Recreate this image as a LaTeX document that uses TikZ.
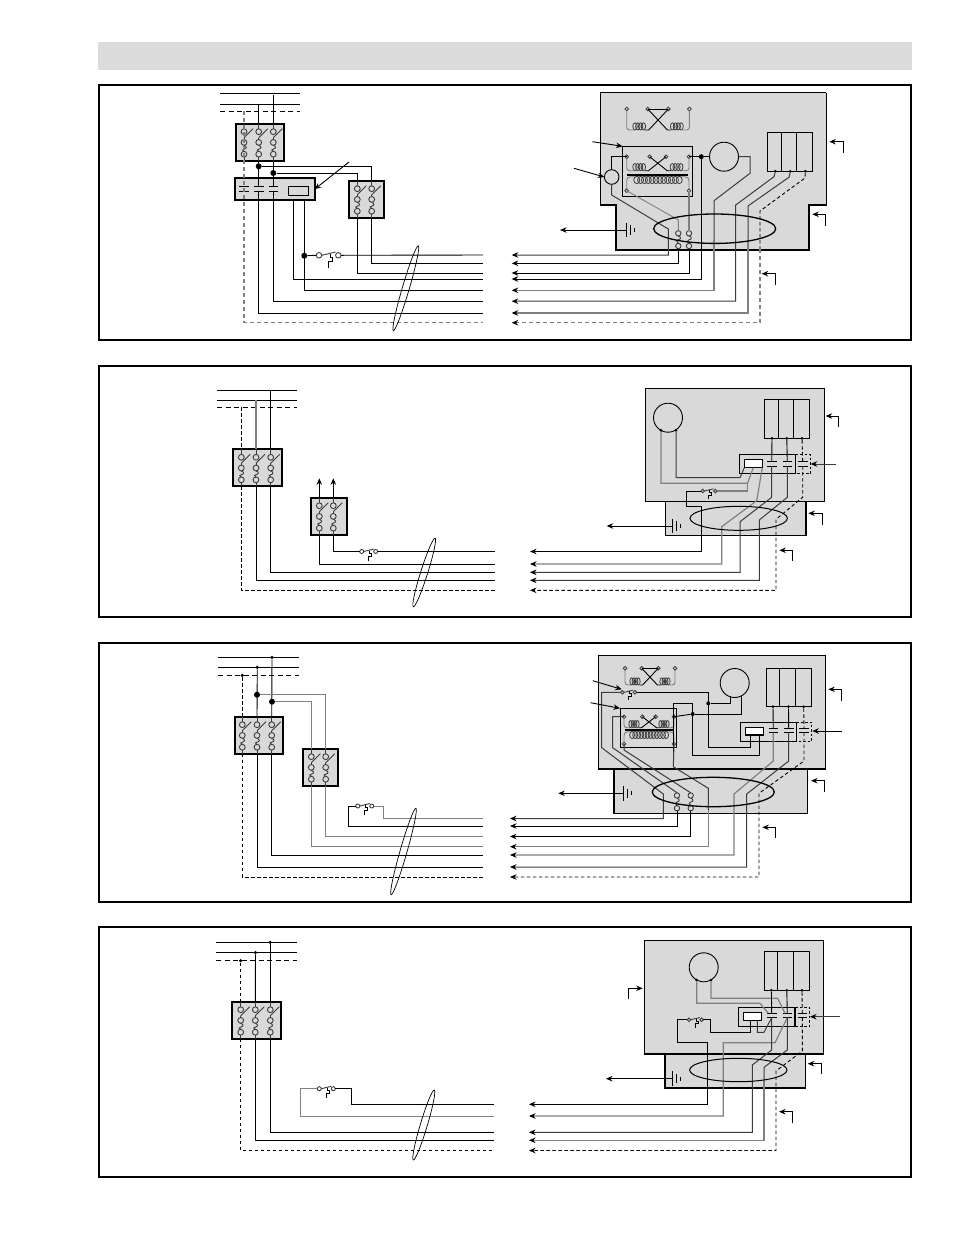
\documentclass[tikz,border=0pt]{standalone}
\usetikzlibrary{arrows.meta,shapes.geometric}
\definecolor{panelgray}{HTML}{D9D9D9}
\definecolor{wiregray}{HTML}{808080}
\definecolor{wiredark}{HTML}{3C3C3C}
\tikzset{
    wire/.style={line width=0.9pt, black},
    dkwire/.style={line width=1pt, wiredark},
    gwire/.style={line width=1.2pt, wiregray},
    dwire/.style={line width=0.9pt, black, dash pattern=on 3.5pt off 2.5pt},
    gdwire/.style={line width=1.2pt, wiregray, dash pattern=on 4pt off 3pt},
    tip/.style={-{Stealth[length=6.5pt,width=5.5pt,black]}},
    frame/.style={draw=black, line width=1.4pt},
    brkbox/.style={rectangle, draw=black, fill=panelgray, line width=1.8pt, anchor=north west, inner sep=0pt, outer sep=0pt, minimum height=37pt},
    jdot/.style={circle, fill=black, inner sep=0pt, minimum size=#1},
    jdot/.default=3pt,
    cable/.style={ellipse, draw=black, line width=0.7pt, inner sep=0pt, outer sep=0pt, minimum height=7pt},
    bundle/.style={ellipse, draw=black, line width=1.3pt, inner sep=0pt, outer sep=0pt},
    fanmotor/.style={circle, draw=black, line width=0.9pt, inner sep=0pt, outer sep=0pt, minimum size=29pt},
    cellbox/.style={rectangle, draw=black, line width=0.9pt, inner sep=0pt, outer sep=0pt},
    part/.style={line width=0.9pt, wiredark},
}
% one pole of a fused disconnect
\newcommand{\polefuse}[4]{
    \begin{scope}[shift={(#2,#3)}]
        \draw[part] (0,8) circle (2.9) (0,18.7) circle (2.9) (0,30.5) circle (2.9);
        \draw[part] (0,0) -- (0,5.1) (0,33.4) -- (0,37);
        \draw[part] (0,14) -- (9,5);
        \draw[part] (0,21.6) .. controls (3,22.5) and (3,25) .. (0,25.4) .. controls (-2,25.8) and (-2,26.8) .. (0,27.6);
        \draw[part] (0,14) -- (0,15.8);
    \end{scope}
    \coordinate (#1) at (#2,#3);
    \coordinate (#4) at (#2,#3+37);
}
\newcommand{\breaker}[5]{
    \node[brkbox, minimum width=#4] (#1) at (#2,#3) {};
    \foreach \n/\dx in {#5} {\polefuse{#1t\n}{#2+\dx}{#3}{#1b\n}}
}
% small fuse in the unit
\newcommand{\smallfuse}[3]{
    \begin{scope}[shift={(#2,#3)}]
        \draw[part] (0,0) circle (2.7) (0,12.7) circle (2.7);
        \draw[part] (0,2.7) .. controls (3,3.5) and (3,6) .. (0,6.5) .. controls (-2,7) and (-2,8.5) .. (0,10);
    \end{scope}
    \coordinate (#1t) at (#2,#3-2.7);
    \coordinate (#1b) at (#2,#3+15.4);
}
% overload switch, l and r are its two terminals
\newcommand{\olswitch}[4]{
    \begin{scope}[shift={(#2,#3)}, scale=#4]
        \draw[part] (0,0) circle (2) (14,0) circle (2);
        \draw[part] (2,0) -- (12,-2.4);
        \draw[wire] (8,-1) -- (8,1.7) -- (10,1.7) -- (10,4.6) -- (6.8,4.6) -- (6.8,9);
        \coordinate (#1l) at (-2,0);
        \coordinate (#1r) at (16,0);
    \end{scope}
}
\newcommand{\coilrun}[5]{
    \foreach \k in {1,...,#4} {\draw[part, line width=0.8pt] ({#1+(\k-0.5)*#3},#2) ellipse ({#3*0.78} and #5);}
}
% secondary windings: x, y, inner offset, height, width
\newcommand{\windings}[6]{
    \begin{scope}[shift={(#2,#3)}]
        \foreach \k/\px in {1/0,2/#4,3/#6-#4,4/#6} {\draw[part, fill=white] (\px,0) circle (1.8); \coordinate (#1\k) at (\px,0);}
        \draw[gwire, line width=0.9pt] (0,1.8) -- (0,#5-3) .. controls (0,#5-1) and (1,#5) .. (3,#5) -- (#6*0.11,#5);
        \draw[gwire, line width=0.9pt] (#6,1.8) -- (#6,#5-3) .. controls (#6,#5-1) and (#6-1,#5) .. (#6-3,#5) -- (#6*0.89,#5);
        \draw[wire] (#6*0.29,#5) -- (#6*0.35,#5) -- (#6-#4,0);
        \draw[wire] (#6*0.71,#5) -- (#6*0.65,#5) -- (#4,0);
        \coilrun{#6*0.11}{#5-3.6}{#6*0.045}{4}{3.6}
        \coilrun{#6*0.71}{#5-3.6}{#6*0.045}{4}{3.6}
    \end{scope}
}
% core and primary: x, y of the terminals, coil top, terminal drop, width
\newcommand{\primarycoil}[6]{
    \begin{scope}[shift={(#2,#3)}]
        \draw[black, line width=1.6pt] (0.6,#4-2) -- (#6-0.6,#4-2);
        \draw[gwire, line width=0.9pt] (0,#5-1.8) -- (0,#4+4) .. controls (0,#4+2) and (1,#4) .. (4,#4) -- (#6-4,#4) .. controls (#6-1,#4) and (#6,#4+2) .. (#6,#4+4) -- (#6,#5-1.8);
        \coilrun{#6*0.13}{#4+3.3}{#6*0.062}{12}{3.6}
        \draw[part, fill=white] (0,#5) circle (1.8) (#6,#5) circle (1.8);
        \coordinate (#1l) at (0,#5);
        \coordinate (#1r) at (#6,#5);
    \end{scope}
}
% heater bank with three terminals
\newcommand{\heaterbank}[7]{
    \node[cellbox, fill=panelgray, anchor=north west, minimum width=#4, minimum height=#5] (#1) at (#2,#3) {};
    \draw[cellbox] (#2+#6,#3) -- (#2+#6,#3+#5) (#2+#7,#3) -- (#2+#7,#3+#5);
    \foreach \n/\dx in {1/#6-6.3,2/#7-6.5,3/#7+8.7} {\node[jdot=3pt] (#1\n) at (#2+\dx,#3+#5) {};}
}
\newcommand{\contactpair}[3]{
    \draw[wire] (#2-4.8,#3) -- (#2+4.8,#3) (#2-4.8,#3+4.4) -- (#2+4.8,#3+4.4);
    \coordinate (#1t) at (#2,#3);
    \coordinate (#1b) at (#2,#3+4.4);
}
\newcommand{\groundbars}[4]{
    \node[inner sep=0pt, minimum size=0pt] (#1) at (#2,#3) {};
    \coordinate (#1end) at (#4,#3);
    \draw[wire] (#2,#3-7.3) -- (#2,#3+7.3);
    \draw[wire] (#2+4,#3-4.7) -- (#2+4,#3+4.7);
    \draw[wire] (#2+7.7,#3-2) -- (#2+7.7,#3+2);
    \draw[wire, tip] (#1) -- (#1end);
}
\newcommand{\leaderarrow}[5]{
    \coordinate (#1a) at (#2,#3);
    \coordinate (#1b) at (#4,#5);
    \draw[wire, tip] (#1a) |- (#1b);
}
\newcommand{\busbars}[6]{
    \coordinate (#1x) at (#2,#4);
    \coordinate (#1y) at (#3,#4);
    \coordinate (#1v) at (#2,#5);
    \coordinate (#1w) at (#3,#5);
    \coordinate (#1p) at (#2,#6);
    \coordinate (#1q) at (#3,#6);
    \draw[wire] (#1x) -- (#1y);
    \draw[wire] (#1v) -- (#1w);
    \draw[wire, dash pattern=on 5pt off 3.5pt] (#1p) -- (#1q);
}
\begin{document}
\begin{tikzpicture}[x=1pt, y=-1pt]
    \useasboundingbox (0,0) rectangle (954,1235);
    % heading band and the four frames
    \fill[panelgray!95!white] (98,42) rectangle (912,70);
    \draw[frame] (99,85) rectangle (911,340);
    \draw[frame] (99,366) rectangle (911,617);
    \draw[frame] (99,643) rectangle (911,902);
    \draw[frame] (99,927) rectangle (911,1177);

    %%%% first panel
    \foreach \n/\y in {1/255,2/263.3,3/273,4/279,5/290.3,6/301.2,7/313,8/322.7} {
        \coordinate (endA\n) at (483,\y);
        \coordinate (tipA\n) at (511.7,\y);
    }
    \busbars{busA}{220}{300}{93.3}{104}{111.3}
    \breaker{brkA}{235.7}{123.7}{48.6}{1/8.3,2/23,3/37.6}
    \breaker{brkD}{349}{180.7}{35.3}{1/8.3,2/22.7}
    \node[brkbox, minimum width=80, minimum height=21.7] (ctrA) at (234.7,178.3) {};
    \node[cellbox, anchor=north west, minimum width=20, minimum height=8.6, line width=1pt] (coilA) at (288.3,186.7) {};
    \node[jdot=6pt] (dotA1) at (258.7,166.3) {};
    \node[jdot=6pt] (dotA2) at (273.3,173) {};
    \node[jdot=6pt] (dotA3) at (304.3,255.7) {};
    \contactpair{conA1}{244}{186.7}
    \contactpair{conA2}{258.7}{186.7}
    \contactpair{conA3}{273.3}{186.7}
    \draw[gdwire] (busAp -| brkAt1) |- (endA8);
    \draw[wire] (brkAt2 |- busAv) -- (brkAt2);
    \draw[wire] (273.3,95) -- (brkAt3);
    \draw[wire] (brkAb2) -- (conA2t);
    \draw[wire] (brkAb3) -- (conA3t);
    \draw[wire] (conA2b) |- (endA7);
    \draw[wire] (conA3b) |- (endA6);
    \draw[wire] (dotA1) -| (brkDt2);
    \draw[wire] (dotA2) -| (brkDt1);
    \draw[wire] (brkDb1) |- (endA3);
    \draw[wire] (brkDb2) |- (endA2);
    \draw[wire] (293.3,200) |- (endA4);
    \draw[wire] (304.3,200) |- (endA5);
    \olswitch{ovlA}{319}{255.3}{1.38}
    \draw[wire] (dotA3) -- (ovlAl);
    \draw[wire] (ovlAr) -- (endA1);
    \node[cable, minimum width=88.6, rotate=73.6] (cblA) at (405.8,288.3) {};
    \draw[wire, tip] (349,162) -- (ctrA.east);

    % unit of the first panel
    \fill[panelgray] (600,92.7) -- (826.7,92.7) -- (826.7,205) -- (809,205) -- (809,250) -- (616,250) -- (616,205) -- (600,205) -- cycle;
    \draw[line width=0.9pt] (600,205) -- (600,92.7) -- (826,92.7);
    \draw[line width=1.5pt] (826.7,92.7) -- (826.7,205) -- (809,205) -- (809,250) -- (616,250) -- (616,205) -- (600,205);
    \windings{upA}{626.7}{109}{21}{21}{62.7}
    \draw[wire] (upA2) -- (upA3);
    \node[cellbox, anchor=north west, minimum width=70, minimum height=50] (xfA) at (622.7,146.3) {};
    \windings{lowA}{626.7}{156.7}{23}{14}{62.3}
    \primarycoil{priA}{626.7}{156.7}{20}{34}{62.3}
    \node[fanmotor] (fanA) at (724,156.7) {};
    \node[fanmotor, minimum size=14.6pt] (capA) at (611.7,177) {};
    \node[jdot=5pt] (dotA4) at (701.3,156.7) {};
    \heaterbank{htrA}{767.7}{132.7}{44.6}{38.6}{14}{29}
    \smallfuse{fsA1}{678.3}{233.3}
    \smallfuse{fsA2}{689}{233.3}
    \draw[wire] (capA.north) |- (lowA1);
    \draw[dkwire, tip] (capA.south) -- (611.7,195) -- (668.3,229) |- (tipA1);
    \draw[gwire, line width=0.9pt] (priAl) -- (678.3,220) -- (fsA1t);
    \draw[gwire] (priAr) -- (fsA2t);
    \draw[wire, tip] (fsA1b) |- (tipA2);
    \draw[wire, tip] (fsA2b) |- (tipA3);
    \draw[wire] (lowA4) -- (dotA4);
    \draw[wire, tip] (dotA4) |- (tipA4);
    \draw[wire] (dotA4) -- (fanA.west);
    \draw[dkwire] (fanA.east) -- (750,156.7) -- (750,173.3) -- (714,200.7) -- (714,240);
    \draw[gwire, tip] (714,240) |- (tipA5);
    \draw[dkwire, tip] (htrA1) -- (774,176.7) -- (735.7,205) |- (tipA6);
    \draw[dkwire] (htrA2) -- (789.3,177) -- (748,206) -- (748,240);
    \draw[gwire, tip] (748,240) |- (tipA7);
    \draw[dwire] (htrA3) -- (805,178) -- (760,211) -- (760,249);
    \draw[gdwire, tip] (760,249) |- (tipA8);
    \node[bundle, minimum width=122, minimum height=29.4] (cblAb) at (714.7,228.7) {};
    \groundbars{gndA}{626.7}{230}{560}
    \leaderarrow{ldA1}{843.3}{152.7}{829.3}{141.7}
    \leaderarrow{ldA2}{825}{226}{812.3}{214.3}
    \leaderarrow{ldA3}{775.7}{285}{761.7}{273.7}
    \draw[wire, tip] (592.3,141.7) -- (xfA.north west);
    \draw[wire, tip] (574,168.3) -- (capA.west);

    %%%% second panel
    \foreach \n/\y in {1/551.5,2/564,3/572.3,4/580.3,5/590.3} {
        \coordinate (endB\n) at (495,\y);
        \coordinate (tipB\n) at (530,\y);
    }
    \busbars{busB}{217}{297}{390.3}{400}{407.3}
    \breaker{brkB}{233.3}{449.3}{49}{1/8,2/22.7,3/37.4}
    \breaker{brkE}{310.7}{497.7}{36}{1/8.6,2/22.6}
    \draw[dwire] (busBp -| brkBt1) -- (brkBt1);
    \draw[gwire] (brkBt2 |- busBv) -- (brkBt2);
    \draw[wire] (brkBt3 |- busBx) -- (brkBt3);
    \draw[dwire] (brkBb1) |- (endB5);
    \draw[wire] (brkBb2) |- (endB4);
    \draw[wire] (brkBb3) |- (endB3);
    \draw[wire] (brkEb1) |- (endB2);
    \draw[wire, tip] (brkEt1) -- (319.3,478.3);
    \draw[wire, tip] (brkEt2) -- (333.3,478.3);
    \olswitch{ovlB}{361.7}{551.5}{1}
    \draw[wire] (brkEb2) |- (ovlBl);
    \draw[wire] (ovlBr) -- (endB1);
    \node[cable, minimum width=72, rotate=72.4] (cblB) at (424.2,572.5) {};

    \node[cellbox, fill=panelgray, anchor=north west, minimum width=179, minimum height=113, line width=0pt] (untB) at (645.3,388.3) {};
    \node[brkbox, minimum width=140.3, minimum height=34.4, line width=1.5pt] (botB) at (665.7,501.3) {};
    \draw[line width=0.9pt] (645.3,501.3) -- (645.3,388.3) -- (824.3,388.3);
    \draw[line width=1.6pt] (824.3,388.3) -- (824.3,501.3) -- (645.3,501.3);
    \node[fanmotor] (fanB) at (668,417.7) {};
    \node[jdot=3pt] (fanB1) at (661,430.3) {};
    \node[jdot=3pt] (fanB2) at (676,430.3) {};
    \heaterbank{htrB}{764.3}{399.3}{45}{39}{14}{29}
    \node[cellbox, anchor=north west, minimum width=56.4, minimum height=19] (ctrB) at (739.3,454.7) {};
    \draw[line width=1.4pt] (739.3,473.7) -- (795.7,473.7);
    \draw[line width=0.8pt, dash pattern=on 2.5pt off 2pt] (795.7,454.7) -- (810.7,454.7) -- (810.7,473.7) -- (795.7,473.7);
    \node[cellbox, anchor=north west, minimum width=18, minimum height=8, line width=1.1pt, fill=white] (coilB) at (744.3,459.7) {};
    \contactpair{conB1}{771.7}{461.7}
    \contactpair{conB2}{787.3}{461.7}
    \contactpair{conB3}{802.7}{461.7}
    \draw[dkwire] (fanB2) -- (676,477.7) -- (740,477.7) -- (coilB.south west);
    \draw[gwire] (fanB1) -- (661,483.3) -- (747.5,483.3) -- (coilB.south);
    \olswitch{ovlBb}{702.7}{491}{0.9}
    \draw[gwire] (ovlBbr) -- (747.5,491) -- (747.5,483.3);
    \draw[wire, tip] (ovlBbl) -- (686,491) -- (686,506) -- (701.7,506) |- (tipB1);
    \draw[gwire, tip] (coilB.south east) -- (756.7,500.7) -- (721.7,526.7) |- (tipB2);
    \draw[wire] (htrB1) -- (conB1t);
    \draw[dkwire, tip] (conB1b) -- (771.7,497.3) -- (740,521.7) |- (tipB3);
    \draw[wire] (htrB2) -- (conB2t);
    \draw[dkwire, tip] (conB2b) -- (787.3,497.3) -- (759.3,520) |- (tipB4);
    \draw[dwire] (htrB3) -- (conB3t);
    \draw[dwire, tip] (conB3b) -- (802.7,497.3) -- (776,519.3) |- (tipB5);
    \node[bundle, minimum width=97.4, minimum height=24, line width=1pt] (cblBb) at (738.7,518.3) {};
    \groundbars{gndB}{672.3}{526}{606.7}
    \leaderarrow{ldB1}{838.7}{426.7}{825.7}{416}
    \leaderarrow{ldB2}{822.7}{524.7}{808.3}{513.3}
    \leaderarrow{ldB3}{792.7}{560.7}{779.3}{550.3}
    \draw[dkwire, tip] (836,464) -- (810.7,464);

    %%%% third panel
    \foreach \n/\y in {1/818.5,2/826,3/836.5,4/846.7,5/855,6/867,7/877} {
        \coordinate (endC\n) at (483,\y);
        \coordinate (tipC\n) at (510,\y);
    }
    \busbars{busC}{218}{299}{657.3}{667.3}{675.3}
    \breaker{brkC}{234.7}{716.7}{48.6}{1/7.6,2/22.3,3/37}
    \breaker{brkF}{302.7}{748.7}{35.6}{1/8.6,2/23}
    \node[jdot=3.5pt] (dotC1) at (242.3,675.3) {};
    \node[jdot=3.5pt] (dotC2) at (257.3,667.3) {};
    \node[jdot=3.5pt] (dotC3) at (272,657.3) {};
    \node[jdot=6pt] (dotC4) at (257,694.7) {};
    \node[jdot=6pt] (dotC5) at (272,701.7) {};
    \draw[dwire] (dotC1) -- (brkCt1);
    \draw[wire] (dotC2) -- (brkCt2);
    \draw[wire] (dotC3) -- (brkCt3);
    \draw[gwire, line width=1pt] (dotC4) -| (brkFt2);
    \draw[gwire, line width=1pt] (dotC5) -| (brkFt1);
    \draw[dwire] (brkCb1) |- (endC7);
    \draw[wire] (brkCb2) |- (endC6);
    \draw[wire] (brkCb3) |- (endC5);
    \draw[gwire, line width=1pt] (brkFb1) |- (endC4);
    \draw[gwire, line width=1pt] (brkFb2) |- (endC3);
    \olswitch{ovlC}{357.7}{806}{1}
    \draw[wire] (ovlCl) -- (348.3,806) |- (endC2);
    \draw[gwire, line width=1pt] (ovlCr) -- (383.3,806) |- (endC1);
    \node[cable, minimum width=90, rotate=74] (cblC) at (403.5,851.5) {};

    \node[brkbox, minimum width=193.3, minimum height=44.3, line width=1.5pt] (botC) at (614,769) {};
    \node[brkbox, minimum width=227, minimum height=113.3, line width=1.5pt] (untC) at (598.3,655.7) {};
    \windings{upC}{625}{668.3}{16.7}{16.7}{50}
    \draw[wire] (upC2) -- (upC3);
    \node[cellbox, anchor=north west, minimum width=56.7, minimum height=39] (xfC) at (620,708.3) {};
    \windings{lowC}{624}{716.7}{18.3}{11}{50}
    \primarycoil{priC}{624}{716.7}{15}{27.3}{50}
    \node[fanmotor] (fanC) at (734.7,683) {};
    \node[jdot=4pt] (dotC6) at (708.3,703.3) {};
    \node[jdot=4pt] (dotC7) at (692.7,714) {};
    \heaterbank{htrC}{766.7}{668.3}{45}{38.4}{12.6}{28.3}
    \node[cellbox, anchor=north west, minimum width=55.3, minimum height=19] (ctrC) at (740.7,722.3) {};
    \draw[line width=0.8pt, dash pattern=on 2.5pt off 2pt] (796,722.3) -- (811.7,722.3) -- (811.7,741.3) -- (796,741.3);
    \node[cellbox, anchor=north west, minimum width=17.6, minimum height=7.3, line width=1.1pt, fill=white] (coilC) at (745.7,727.7) {};
    \contactpair{conC1}{773.3}{728.3}
    \contactpair{conC2}{788.7}{728.3}
    \contactpair{conC3}{804}{728.3}
    \olswitch{ovlCb}{622.3}{692.3}{0.9}
    \smallfuse{fsC1}{677}{795.5}
    \smallfuse{fsC2}{690.7}{795.5}
    \draw[dkwire, tip] (ovlCbl) -| (601.7,747.7) -- (663.3,794) |- (tipC1);
    \draw[wire] (ovlCbr) -- (708.3,692.3) -- (708.3,747.7) -- (750,747.7) -- (750,735);
    \draw[wire] (dotC6) -- (730,703.3) -- (730,696);
    \draw[wire] (741.7,696) -- (741.7,714) -- (dotC7);
    \draw[wire] (dotC7) -- (lowC4);
    \draw[wire] (dotC7) -- (692.7,703.3) -- (673.3,703.3) -- (673.3,766.7);
    \draw[dkwire] (673.3,766.7) -- (708.3,788.3) -- (708.3,810);
    \draw[gwire, tip] (708.3,810) |- (tipC4);
    \draw[wire] (dotC7) |- (759.3,755.3) -- (759.3,735);
    \draw[dkwire] (lowC1) -- (612.7,716.7) -- (612.7,747.7) -- (fsC1t);
    \draw[dkwire] (priCl) -- (624,750) -- (fsC2t);
    \draw[dkwire] (priCr) -- (673.3,766.7);
    \draw[wire, tip] (fsC1b) |- (tipC2);
    \draw[wire, tip] (fsC2b) |- (tipC3);
    \draw[wire] (htrC1) -- (conC1t);
    \draw[gwire, tip] (conC1b) -- (773.3,761) -- (734,794) |- (tipC5);
    \draw[wire] (htrC2) -- (conC2t);
    \draw[dkwire, tip] (conC2b) -- (788.7,761) -- (746.7,794) |- (tipC6);
    \draw[dwire] (htrC3) -- (conC3t);
    \draw[dwire, tip] (conC3b) -- (804,761) -- (759,793.3) |- (tipC7);
    \node[bundle, minimum width=122, minimum height=29.4] (cblCb) at (713.3,792) {};
    \groundbars{gndC}{623.3}{793.3}{558.3}
    \leaderarrow{ldC1}{841.7}{700.7}{828.3}{689.3}
    \leaderarrow{ldC2}{824.3}{791.7}{811}{780.7}
    \leaderarrow{ldC3}{775.7}{837.7}{762.3}{827.3}
    \draw[wire, tip] (592.7,680.7) -- (621.7,689.3);
    \draw[wire, tip] (590.7,702.7) -- (xfC.north west);
    \draw[wire, tip] (841.7,731) -- (812.3,731);

    %%%% fourth panel
    \foreach \n/\y in {1/1104.3,2/1116,3/1132.3,4/1140.3,5/1150.5} {
        \coordinate (endD\n) at (494,\y);
        \coordinate (tipD\n) at (529,\y);
    }
    \busbars{busD}{216}{296.7}{942.3}{952.5}{960.7}
    \breaker{brkG}{232.3}{1001.7}{49}{1/8.4,2/23,3/38}
    \node[jdot=3.5pt] (dotD1) at (240.7,960.7) {};
    \node[jdot=3.5pt] (dotD2) at (255.5,952.5) {};
    \node[jdot=3.5pt] (dotD3) at (270.3,942.3) {};
    \draw[dwire] (dotD1) -- (brkGt1);
    \draw[wire] (dotD2) -- (brkGt2);
    \draw[wire] (dotD3) -- (brkGt3);
    \draw[dwire] (brkGb1) |- (endD5);
    \draw[wire] (brkGb2) |- (endD4);
    \draw[wire] (brkGb3) |- (endD3);
    \olswitch{ovlD}{319.3}{1088.7}{1}
    \draw[gwire, line width=1pt] (ovlDl) -- (300.3,1088.7) |- (endD2);
    \draw[wire] (ovlDr) -- (351.7,1088.7) |- (endD1);
    \node[cable, minimum width=73, rotate=73.3] (cblD) at (423.8,1125) {};

    \node[brkbox, minimum width=140.7, minimum height=34, line width=1.5pt] (botD) at (665,1054) {};
    \node[brkbox, minimum width=178.6, minimum height=113.3, line width=1.5pt] (untD) at (644.7,940.7) {};
    \node[fanmotor] (fanD) at (703.7,967.3) {};
    \node[jdot=3pt] (fanD1) at (696.7,980) {};
    \node[jdot=3pt] (fanD2) at (711,980) {};
    \heaterbank{htrD}{764.3}{951}{45}{39.3}{13.4}{29}
    \node[cellbox, anchor=north west, minimum width=56.7, minimum height=19] (ctrD) at (738.3,1007.3) {};
    \draw[line width=1.6pt] (795,1007.3) -- (795,1026.3);
    \draw[line width=0.8pt, dash pattern=on 2.5pt off 2pt] (795,1007.3) -- (809.3,1007.3) -- (809.3,1026.3) -- (795,1026.3);
    \node[cellbox, anchor=north west, minimum width=18.4, minimum height=8, line width=1.1pt, fill=white] (coilD) at (743.3,1012.3) {};
    \contactpair{conD1}{771.7}{1013.3}
    \contactpair{conD2}{787.3}{1013.3}
    \contactpair{conD3}{802.3}{1013.3}
    \olswitch{ovlDb}{689}{1019.7}{0.9}
    \draw[gwire] (fanD1) -- (696.7,1003.3) -- (760,1003.3) -- (768.3,1013.3);
    \draw[gwire] (fanD2) -- (711,998.3) -- (777.7,998.3) -- (785,1013.3);
    \draw[wire, tip] (ovlDbl) -- (677.7,1019.7) -- (677.7,1042.7) -- (707.7,1042.7) |- (tipD1);
    \draw[wire] (ovlDbr) -- (710.3,1019.7) -- (710.3,1032.3) -- (750,1032.3) -- (750,1020.3);
    \draw[dkwire] (757.3,1020.3) -- (757.3,1032.3) -- (764,1032.3) -- (conD1b);
    \draw[gwire, tip] (conD2b) -- (775,1042.7) -- (723.3,1042.7) |- (tipD2);
    \draw[wire] (htrD1) -- (conD1t);
    \draw[dkwire, tip] (conD1b) -- (771.7,1050) -- (752.3,1065) |- (tipD3);
    \draw[wire] (htrD2) -- (conD2t);
    \draw[dkwire] (conD2b) -- (787.3,1050) -- (764,1067.3) -- (764,1080);
    \draw[gwire, tip] (764,1080) |- (tipD4);
    \draw[dwire] (htrD3) -- (conD3t);
    \draw[dwire, tip] (conD3b) -- (802.3,1051) -- (776,1071) |- (tipD5);
    \node[bundle, minimum width=97.4, minimum height=23.4, line width=1pt] (cblDb) at (738.3,1070) {};
    \groundbars{gndD}{672.3}{1078.7}{606}
    \leaderarrow{ldD1}{628.3}{999.3}{642.7}{988.3}
    \leaderarrow{ldD2}{821.7}{1074.3}{807.7}{1063.7}
    \leaderarrow{ldD3}{792.7}{1122.7}{779}{1111.7}
    \draw[dkwire, tip] (840,1016.7) -- (810,1016.7);
\end{tikzpicture}
\end{document}
